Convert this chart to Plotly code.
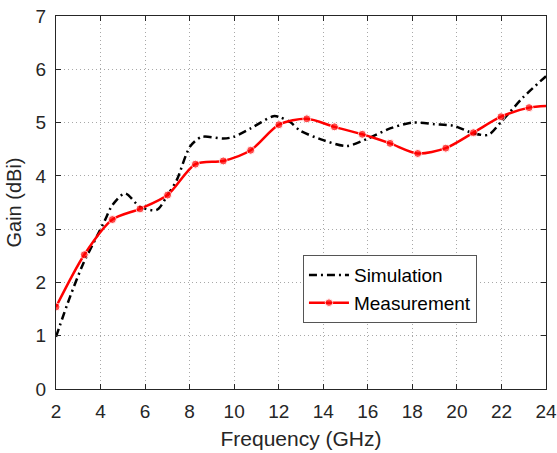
import plotly.graph_objects as go

# Simulated gain (dBi) vs frequency (GHz)
sim_freq = [2.0, 2.63, 3.23, 3.83, 4.2, 4.53, 5.1, 5.77, 6.52, 7.01, 7.42, 8.02, 8.54,
            9.51, 9.96, 10.74, 11.76, 12.06, 12.51, 12.96, 14.0, 15.05, 16.0, 17.0,
            18.0, 18.99, 19.84, 20.74, 21.41, 21.98, 22.99, 24.0]
sim_gain = [0.98, 1.73, 2.36, 2.86, 3.17, 3.45, 3.67, 3.42, 3.36, 3.64, 3.92, 4.55, 4.73,
            4.70, 4.73, 4.89, 5.12, 5.10, 5.01, 4.85, 4.67, 4.56, 4.70, 4.89,
            5.00, 4.97, 4.94, 4.80, 4.77, 5.01, 5.48, 5.87]

# Measured gain (dBi) vs frequency (GHz)
meas_freq = [2.0, 3.27, 4.53, 5.77, 7.01, 8.26, 9.51, 10.74, 12.01, 13.26, 14.5,
             15.75, 17.0, 18.24, 19.5, 20.74, 21.98, 23.24, 24.0]
meas_gain = [1.54, 2.52, 3.18, 3.38, 3.64, 4.22, 4.28, 4.48, 4.96, 5.07, 4.92,
             4.78, 4.61, 4.42, 4.52, 4.81, 5.11, 5.28, 5.31]

x_ticks = list(range(2, 25, 2))
y_ticks = list(range(0, 8))

FONT = "Liberation Sans, Arial, sans-serif"
TXT = "#262626"

fig = go.Figure()
fig.add_trace(go.Scatter(
    x=sim_freq, y=sim_gain, name="Simulation", mode="lines",
    line=dict(color="black", width=2.5, dash="8px,4px,2px,4px", shape="spline", smoothing=0.8),
))
marker_sizes = [8] * (len(meas_freq) - 1) + [0]
fig.add_trace(go.Scatter(
    x=meas_freq, y=meas_gain, name="Measurement", mode="lines+markers",
    line=dict(color="#ff0000", width=2.5, shape="spline", smoothing=0.8),
    marker=dict(color="#ff0000", size=marker_sizes),
))

axis_common = dict(
    showline=True, linecolor=TXT, linewidth=1.2, mirror="ticks",
    ticks="inside", ticklen=5, tickcolor=TXT, tickwidth=1,
    showgrid=True, gridcolor="#a8a8a8", gridwidth=1, griddash="1px,3px",
    zeroline=False, tickfont=dict(family=FONT, size=19, color=TXT),
    ticklabelstandoff=5, automargin=False,
)

fig.update_xaxes(range=[2, 24], tickvals=x_ticks,
                 title=dict(text="Frequency (GHz)", font=dict(family=FONT, size=21, color=TXT), standoff=10),
                 **axis_common)
fig.update_yaxes(range=[0, 7], tickvals=y_ticks,
                 title=dict(text="Gain (dBi)", font=dict(family=FONT, size=20, color=TXT), standoff=8),
                 **axis_common)

fig.update_layout(
    width=557, height=453,
    margin=dict(l=56, r=11, t=16, b=64),
    paper_bgcolor="white", plot_bgcolor="white",
    showlegend=True,
    legend=dict(
        x=0.504, y=0.359, xanchor="left", yanchor="top",
        bgcolor="white", bordercolor="#555555", borderwidth=1,
        font=dict(family=FONT, size=19, color="black"),
        tracegroupgap=0, itemwidth=40,
    ),
)

fig.write_html("out.html")
